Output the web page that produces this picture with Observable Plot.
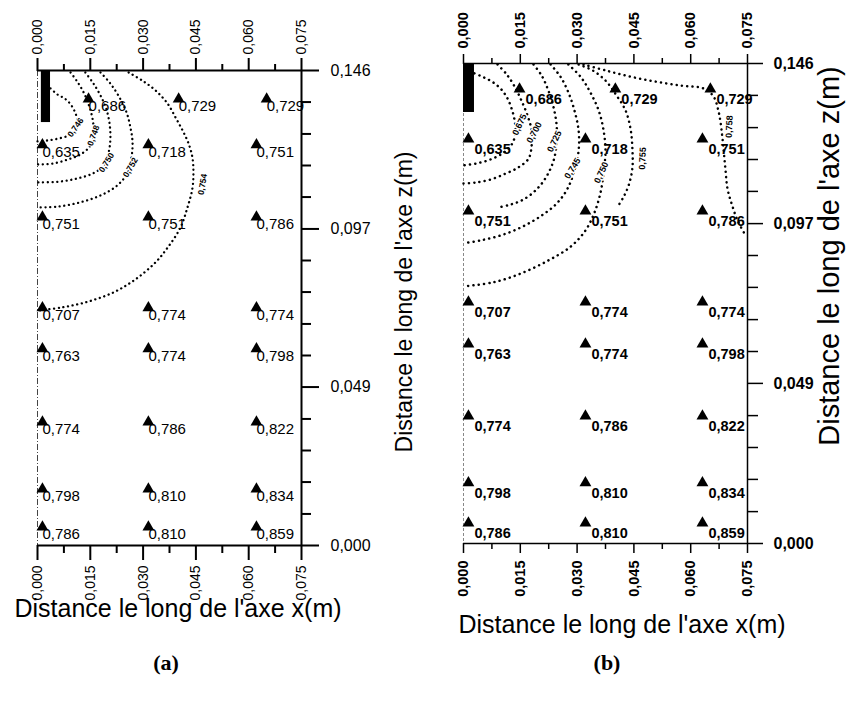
<!DOCTYPE html>
<html><head><meta charset="utf-8">
<script src="https://cdn.jsdelivr.net/npm/d3@7"></script>
<script src="https://cdn.jsdelivr.net/npm/@observablehq/plot@0.6"></script>
<style>
html,body{margin:0;padding:0;background:#fff;}
#wrap{position:relative;width:850px;height:704px;background:#fff;font-family:"Liberation Sans",Arial,sans-serif;color:#000;overflow:hidden;}
.panel{position:absolute;top:0;}
#pa g[aria-label="x-axis tick label"]{font-size:14px !important;}
#pb g[aria-label="x-axis tick label"]{font-size:14.5px !important;font-weight:bold;}
#pb g[aria-label="y-axis tick label"]{font-weight:bold;}
.xt{position:absolute;white-space:nowrap;transform:translate(-50%,-50%);line-height:1;}
.zt{position:absolute;white-space:nowrap;transform:translate(-50%,-50%) rotate(-90deg);line-height:1;}
.cap{position:absolute;font-family:"Liberation Serif","Times New Roman",serif;font-weight:bold;font-size:22px;transform:translate(-50%,-50%);line-height:1;}
</style></head>
<body>
<div id="wrap">
  <div id="pa" class="panel" style="left:0px"></div>
  <div id="pb" class="panel" style="left:425px"></div>
</div>
<script>
// ---------- axis ticks (mm) ----------
const xMajor = [0, 15, 30, 45, 60, 75];
const xMajorLabels = ["0,000", "0,015", "0,030", "0,045", "0,060", "0,075"];
const xMinor = [7.5, 22.5, 37.5, 52.5, 67.5];
const zMajor = [0, 48.7, 97.3, 146];
const zMajorLabels = ["0,000", "0,049", "0,097", "0,146"];
const zMinor = [9.7, 19.5, 29.2, 38.9, 58.4, 68.1, 77.9, 87.6, 107.1, 116.8, 126.5, 136.3];

// ---------- titles ----------
const xTitle = "Distance le long de l'axe x(m)";
const zTitle = "Distance le long de l'axe z(m)";
const captions = ["(a)", "(b)"];

// ---------- measured values (same in both panels) ----------
const pointValues = [
  ["0,686", "0,729", "0,729"],
  ["0,635", "0,718", "0,751"],
  ["0,751", "0,751", "0,786"],
  ["0,707", "0,774", "0,774"],
  ["0,763", "0,774", "0,798"],
  ["0,774", "0,786", "0,822"],
  ["0,798", "0,810", "0,834"],
  ["0,786", "0,810", "0,859"]
];

// ---------- measurement positions (mm) ----------
const rowZA = [137.7, 123.6, 101.4, 73.5, 60.9, 38.4, 17.8, 6.1];
const topRowXA = [14.5, 40.1, 65.1];
const colXA = [1.4, 31.5, 62.2];
const rowZB = [138.7, 123.5, 101.6, 73.9, 61.1, 39.2, 18.9, 6.7];
const topRowXB = [14.8, 40.1, 65.2];
const colXB = [1.3, 32.2, 63.1];

// ---------- electrode (mm) ----------
const electrodeA = {x1: 1.1, x2: 3.7, z1: 130.0, z2: 146};
const electrodeB = {x1: 0, x2: 2.9, z1: 131.1, z2: 146};

// ---------- contours, panel (a) : [x mm, z mm] ----------
const a746 = [[3.7,140.5],[5.7,138.6],[7.7,137.4],[9.4,135.6],[10.8,132.8],[11.4,130.0],[10.8,127.6],[8.8,126.0],[6.0,125.1],[2.8,124.5],[0,124.2]];
const a748 = [[9.4,145.4],[11.1,142.9],[12.8,139.9],[14.2,136.5],[15.3,132.8],[15.9,129.1],[15.9,126.0],[14.8,122.6],[12.2,120.2],[8.5,118.6],[4.3,117.4],[0,117.1]];
const a750 = [[13.6,145.4],[15.9,142.0],[17.9,138.3],[19.6,134.0],[20.5,129.4],[20.7,124.8],[20.2,120.8],[18.8,116.8],[15.6,114.3],[10.8,112.7],[5.7,111.8],[0,111.6]];
const a752 = [[17.9,145.4],[20.7,142.0],[23.3,137.7],[25.3,133.1],[26.4,128.5],[27.0,123.9],[26.7,119.3],[25.6,114.6],[22.7,110.7],[17.9,107.6],[12.2,105.5],[6.0,104.2],[0,103.9]];
const a754 = [[25.9,145.4],[29.8,142.9],[33.5,139.9],[36.9,135.9],[39.2,131.6],[41.2,127.6],[42.9,123.6],[44.0,119.3],[44.3,114.6],[44.0,109.7],[42.6,103.9],[40.6,97.7],[37.2,91.9],[33.5,87.0],[27.8,81.8],[21.6,77.8],[14.5,75.0],[7.1,73.2],[0,72.2]];
const levelsA = ["0,746", "0,748", "0,750", "0,752", "0,754"];
const labelPosA = [[10.8,128.5],[15.9,126.0],[19.6,117.7],[26.4,116.2],[46.9,111.0]];
const labelAngleA = [-55, -70, -58, -60, -80];

// ---------- contours, panel (b) ----------
const b675 = [[2.9,143.0],[5.5,141.7],[7.9,140.2],[10.0,138.1],[11.6,135.4],[12.7,132.3],[13.5,128.7],[13.7,125.0],[12.9,121.7],[10.6,118.9],[7.1,116.8],[3.4,115.6],[0,115.0]];
const b700 = [[9.0,145.7],[11.4,142.7],[13.5,139.0],[15.3,134.7],[16.9,130.2],[18.0,125.6],[18.0,121.1],[17.2,117.1],[14.5,114.4],[11.1,112.5],[7.1,110.7],[3.2,109.8],[0,109.5]];
const b725 = [[18.5,145.7],[20.6,142.4],[22.4,137.8],[23.8,132.6],[24.6,127.1],[24.6,122.0],[23.8,116.5],[21.9,111.6],[19.3,107.7],[15.8,104.6],[12.4,103.1],[9.2,102.2]];
const b745 = [[23.0,145.7],[25.6,142.0],[27.7,137.2],[29.3,131.7],[30.4,125.6],[30.4,119.5],[29.3,113.5],[27.5,108.0],[24.6,103.4],[20.3,99.5],[15.1,96.1],[9.8,93.7],[4.5,92.2],[0,91.3]];
const b750 = [[27.7,145.7],[30.9,142.0],[33.5,137.2],[35.7,131.7],[37.0,125.6],[37.5,119.5],[37.0,112.9],[36.2,106.8],[34.6,100.7],[32.2,95.2],[28.3,90.3],[22.4,86.1],[15.1,82.1],[7.7,79.4],[0,78.2]];
const b755 = [[30.4,145.7],[34.1,143.9],[37.5,140.8],[40.4,136.3],[42.8,131.7],[44.1,126.2],[44.6,120.1],[44.6,114.1],[43.6,108.9],[42.3,105.5],[40.9,102.8]];
const b758 = [[31.7,145.7],[37.5,143.9],[44.1,142.0],[50.7,140.5],[57.3,139.3],[63.4,138.4],[66.0,136.0],[67.3,131.7],[68.1,126.2],[68.7,119.5],[69.2,113.5],[69.7,108.0],[70.8,103.4],[72.4,98.2],[74.5,93.7]];
const levelsB = ["0,675", "0,700", "0,725", "0,745", "0,750", "0,755", "0,758"];
const labelPosB = [[14.8,127.4],[18.7,125.0],[24.0,122.3],[28.8,114.1],[36.4,112.8],[47.3,117.1],[70.2,126.8]];
const labelAngleB = [-65, -62, -65, -58, -65, -88, -88];

function buildPanel(cfg) {
  const pts = [];
  cfg.rowZ.forEach((z, r) => {
    const xs = r === 0 ? cfg.topRowX : cfg.colX;
    xs.forEach((x, c) => pts.push({x, z, v: pointValues[r][c]}));
  });
  const lines = [];
  cfg.curves.forEach((curve, i) => curve.forEach(([x, z]) => lines.push({level: cfg.levels[i], x, z})));
  const labs = cfg.levels.map((t, i) => ({t, x: cfg.labelPos[i][0], z: cfg.labelPos[i][1], a: cfg.labelAngle[i]}));
  const fx = (d) => xMajorLabels[xMajor.indexOf(d)];
  const fz = (d) => zMajorLabels[zMajor.indexOf(d)];
  const blank = () => "";
  const s = cfg.st;
  return Plot.plot({
    width: 425, height: 640,
    marginLeft: s.ml, marginRight: s.mr, marginTop: s.mt, marginBottom: s.mb,
    x: {domain: [0, 75], label: null},
    y: {domain: [0, 146], label: null},
    style: {fontFamily: "'Liberation Sans', Arial, sans-serif", background: "white", color: "black", overflow: "visible"},
    marks: [
      Plot.ruleX([0], {stroke: s.leftStroke, strokeWidth: 1, strokeDasharray: s.leftDash}),
      Plot.line(lines, {x: "x", y: "z", z: "level", curve: "catmull-rom", stroke: "black", strokeWidth: s.dotW, strokeDasharray: s.dotDash, strokeLinecap: "round"}),
      Plot.rect([cfg.electrode], {x1: "x1", x2: "x2", y1: "z1", y2: "z2", fill: "black"}),
      Plot.ruleY([0, 146], {stroke: "black", strokeWidth: s.lw}),
      Plot.ruleX([75], {stroke: "black", strokeWidth: s.lw}),
      Plot.axisX(xMinor, {anchor: "top", tickSize: s.topMinor, tickFormat: blank, label: null, strokeWidth: s.lw}),
      Plot.axisX(xMajor, {anchor: "top", tickSize: s.topMajor, tickPadding: s.topPad, tickRotate: -90, fontSize: s.topFont, fontWeight: s.fw, tickFormat: fx, label: null, strokeWidth: s.lw}),
      Plot.axisX(xMinor, {anchor: "bottom", tickSize: s.botMinor, tickFormat: blank, label: null, strokeWidth: s.lw}),
      Plot.axisX(xMajor, {anchor: "bottom", tickSize: s.botMajor, tickPadding: s.botPad, tickRotate: -90, fontSize: s.botFont, fontWeight: s.fw, tickFormat: fx, label: null, strokeWidth: s.lw}),
      Plot.axisY(zMinor, {anchor: "right", tickSize: s.rMinor, tickFormat: blank, label: null, strokeWidth: s.lw}),
      Plot.axisY(zMajor, {anchor: "right", tickSize: s.rMajor, tickPadding: s.rPad, fontSize: 16, fontWeight: s.fw, tickFormat: fz, label: null, strokeWidth: s.lw}),
      Plot.text(labs, {x: "x", y: "z", text: "t", rotate: "a", fontSize: s.cFont, fontWeight: "bold", fill: "black", stroke: "white", strokeWidth: 2.5}),
      Plot.dot(pts, {x: "x", y: "z", symbol: "triangle", r: 4.4, fill: "black", stroke: "none", dy: 1.5}),
      Plot.text(pts, {x: "x", y: "z", text: "v", textAnchor: "start", dx: s.vdx, dy: s.vdy, fontSize: s.vFont, fontWeight: s.fw, fill: "black"})
    ]
  });
}

const svgA = buildPanel({
  rowZ: rowZA, topRowX: topRowXA, colX: colXA, electrode: electrodeA,
  curves: [a746, a748, a750, a752, a754], levels: levelsA, labelPos: labelPosA, labelAngle: labelAngleA,
  st: {ml: 37, mr: 124, mt: 70, mb: 95, lw: 2, fw: "normal",
       leftStroke: "#444", leftDash: "6,2,1,2", dotW: 2.3, dotDash: "0.1,4.6",
       topMinor: 7, topMajor: 13, topPad: 3, topFont: 14,
       botMinor: 8, botMajor: 15, botPad: 5, botFont: 14.5,
       rMinor: 9, rMajor: 17, rPad: 12, cFont: 8.5,
       vdx: 0, vdy: 9, vFont: 15}
});
const svgB = buildPanel({
  rowZ: rowZB, topRowX: topRowXB, colX: colXB, electrode: electrodeB,
  curves: [b675, b700, b725, b745, b750, b755, b758], levels: levelsB, labelPos: labelPosB, labelAngle: labelAngleB,
  st: {ml: 38, mr: 103, mt: 63, mb: 97, lw: 1.5, fw: "bold",
       leftStroke: "#888", leftDash: "3,2", dotW: 2.5, dotDash: "0.1,5.2",
       topMinor: 6, topMajor: 10, topPad: 5, topFont: 14,
       botMinor: 6, botMajor: 10, botPad: 7, botFont: 14.5,
       rMinor: 10, rMajor: 15, rPad: 11, cFont: 9,
       vdx: 6, vdy: 12, vFont: 14.5}
});
document.getElementById("pa").appendChild(svgA);
document.getElementById("pb").appendChild(svgB);

// titles and captions
const wrap = document.getElementById("wrap");
function addText(cls, txt, left, top, size) {
  const d = document.createElement("div");
  d.className = cls;
  d.textContent = txt;
  d.style.left = left + "px";
  d.style.top = top + "px";
  if (size) d.style.fontSize = size + "px";
  wrap.appendChild(d);
}
addText("xt", xTitle, 178, 608, 25);
addText("xt", xTitle, 622, 624, 25);
addText("zt", zTitle, 404, 302, 23);
addText("zt", zTitle, 829, 256, 29);
addText("cap", captions[0], 166, 663);
addText("cap", captions[1], 607, 663);
</script>
</body></html>
